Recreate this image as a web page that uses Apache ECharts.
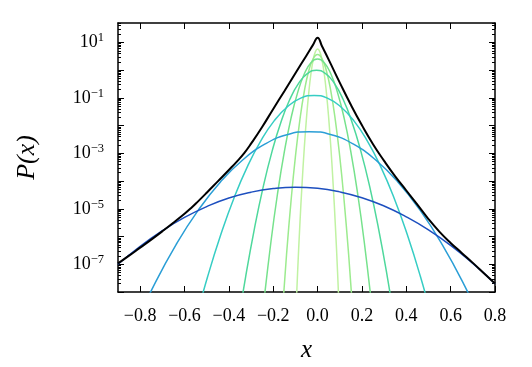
<!DOCTYPE html>
<html><head><meta charset="utf-8">
<script src="https://cdn.jsdelivr.net/npm/echarts@6/dist/echarts.min.js"></script>
<style>html,body{margin:0;padding:0;background:#fff;}#c{width:532px;height:367px;}</style>
</head><body><div id="c"></div><script>
// ---- data (y values are log10 P(x)) ----
const xTicks = [-0.8, -0.6, -0.4, -0.2, 0.0, 0.2, 0.4, 0.6, 0.8];
const yDecades = [-8, -7, -6, -5, -4, -3, -2, -1, 0, 1];
const yLabelExps = [1, -1, -3, -5, -7];

const c1X = [-0.10,-0.09,-0.08,-0.07,-0.06,-0.05,-0.04,-0.03,-0.02,-0.01,0,0.01,0.02,0.03,0.04,0.05,0.06,0.07,0.08,0.09,0.10];
const c1LogP = [-9.15,-7.27,-5.58,-4.10,-2.81,-1.72,-0.83,-0.13,0.36,0.66,0.76,0.66,0.36,-0.13,-0.83,-1.72,-2.81,-4.10,-5.58,-7.27,-9.15];

const c2X = [-0.16,-0.14,-0.12,-0.10,-0.08,-0.06,-0.04,-0.02,0,0.02,0.04,0.06,0.08,0.10,0.12,0.14,0.16];
const c2LogP = [-8.86,-6.65,-4.74,-3.12,-1.80,-0.77,-0.03,0.41,0.56,0.41,-0.03,-0.77,-1.80,-3.12,-4.74,-6.65,-8.86];

const c3X = [-0.25,-0.21,-0.18,-0.15,-0.12,-0.09,-0.06,-0.03,0,0.03,0.06,0.09,0.12,0.15,0.18,0.21,0.25];
const c3LogP = [-8.91,-6.17,-4.42,-2.95,-1.74,-0.81,-0.14,0.27,0.40,0.27,-0.14,-0.81,-1.74,-2.95,-4.42,-6.17,-8.91];

const c4X = [-0.365,-0.325,-0.285,-0.245,-0.205,-0.165,-0.125,-0.085,-0.045,-0.005,0.035,0.075,0.115,0.155,0.195,0.235,0.275,0.315,0.355];
const c4LogP = [-9.46,-7.48,-5.72,-4.20,-2.92,-1.87,-1.05,-0.47,-0.12,0.00,-0.12,-0.47,-1.05,-1.87,-2.92,-4.20,-5.72,-7.48,-9.46];

const c5X = [-0.556,-0.496,-0.436,-0.376,-0.316,-0.256,-0.196,-0.136,-0.076,-0.016,0.044,0.104,0.164,0.224,0.284,0.344,0.404,0.464,0.524];
const c5LogP = [-9.19,-7.45,-5.92,-4.59,-3.47,-2.55,-1.83,-1.32,-1.01,-0.91,-1.01,-1.32,-1.83,-2.55,-3.47,-4.59,-5.92,-7.45,-9.19];

const c6X = [-0.838,-0.738,-0.638,-0.538,-0.438,-0.338,-0.238,-0.138,-0.038,0.062,0.162,0.262,0.362,0.462,0.562,0.662,0.762];
const c6LogP = [-9.45,-7.76,-6.29,-5.05,-4.03,-3.24,-2.67,-2.33,-2.22,-2.33,-2.67,-3.24,-4.03,-5.05,-6.29,-7.76,-9.45];

const c7X = [-0.9,-0.8,-0.7,-0.6,-0.5,-0.4,-0.3,-0.2,-0.1,0,0.1,0.2,0.3,0.4,0.5,0.6,0.7,0.8];
const c7LogP = [-7.00,-6.35,-5.79,-5.31,-4.92,-4.61,-4.40,-4.27,-4.22,-4.26,-4.39,-4.60,-4.90,-5.29,-5.76,-6.32,-6.97,-7.70];

const blackX = [-0.9,-0.85,-0.8,-0.75,-0.7,-0.65,-0.6,-0.57,-0.54,-0.5,-0.45,-0.4,-0.36,-0.33,-0.3,-0.25,-0.2,-0.15,-0.1,-0.05,-0.02,0,0.02,0.05,0.1,0.15,0.2,0.25,0.3,0.35,0.4,0.45,0.5,0.55,0.6,0.65,0.7,0.75,0.8];
const blackLogP = [-6.97,-6.69,-6.40,-6.11,-5.81,-5.50,-5.18,-4.97,-4.74,-4.42,-4.01,-3.60,-3.26,-2.98,-2.65,-2.05,-1.40,-0.76,-0.11,0.53,0.92,1.17,0.86,0.38,-0.45,-1.25,-1.99,-2.67,-3.27,-3.83,-4.34,-4.85,-5.37,-5.83,-6.23,-6.59,-6.95,-7.32,-7.69];

const curveColors = ['#c0f2a2','#9ceb8e','#76e28c','#4ed89c','#36cdc4','#2a9ed6','#1d4fbf'];

// ---- chart ----
const FONT = '"Liberation Serif", "DejaVu Serif", serif';
const yMin = -8, yMax = 1.7;
const minorVals = [];
yDecades.forEach(k => { for (let m = 2; m <= 9; m++) { const v = k + Math.log10(m); if (v <= yMax) minorVals.push(v); } });
const fmtX = v => (v < 0 ? '\u2212' : '') + Math.abs(v).toFixed(1);
const fmtExp = e => (e < 0 ? '\u2212' : '') + Math.abs(e);

const lineStyleAxis = { show: true, onZero: false, lineStyle: { color: '#000', width: 1.5 } };
function xAx(pos, labels) {
  return {
    type: 'value', position: pos, min: -0.9, max: 0.8,
    axisLine: lineStyleAxis, splitLine: { show: false },
    axisTick: { show: true, inside: true, length: 6, customValues: xTicks, lineStyle: { color: '#000', width: 1 } },
    axisLabel: labels ? { show: true, customValues: xTicks, formatter: fmtX, margin: 15, color: '#000', fontSize: 18, fontFamily: FONT } : { show: false },
    name: labels ? 'x' : '', nameLocation: 'middle', nameGap: 46,
    nameTextStyle: { fontFamily: FONT, fontStyle: 'italic', fontSize: 25, color: '#000' }
  };
}
function yAx(pos, minor, labels) {
  return {
    type: 'value', position: pos, min: yMin, max: yMax,
    axisLine: minor ? { show: false, onZero: false } : lineStyleAxis, splitLine: { show: false },
    axisTick: { show: true, inside: true, length: minor ? 3 : 6, customValues: minor ? minorVals : yDecades, lineStyle: { color: '#000', width: 1 } },
    axisLabel: labels ? {
      show: true, customValues: yLabelExps, margin: 14,
      formatter: v => '{b|10}{s|' + fmtExp(Math.round(v)) + '}',
      rich: {
        b: { fontSize: 18, fontFamily: FONT, color: '#000', lineHeight: 22 },
        s: { fontSize: 12.5, fontFamily: FONT, color: '#000', lineHeight: 12, verticalAlign: 'top' }
      }
    } : { show: false },
    name: labels ? 'P(x)' : '', nameLocation: 'middle', nameGap: 78,
    nameTextStyle: { fontFamily: FONT, fontStyle: 'italic', fontSize: 26, color: '#000' }
  };
}

const curves = [[c1X,c1LogP],[c2X,c2LogP],[c3X,c3LogP],[c4X,c4LogP],[c5X,c5LogP],[c6X,c6LogP],[c7X,c7LogP]];
const series = curves.map((c, i) => ({
  type: 'line', xAxisIndex: 0, yAxisIndex: 0, smooth: true, showSymbol: false, clip: true,
  data: c[0].map((x, j) => [x, c[1][j]]),
  lineStyle: { color: curveColors[i], width: 1.5 }, emphasis: { disabled: true }
}));
series.push({
  type: 'line', xAxisIndex: 0, yAxisIndex: 0, smooth: 0.5, showSymbol: false, clip: true,
  data: blackX.map((x, j) => [x, blackLogP[j]]),
  lineStyle: { color: '#000', width: 2 }, emphasis: { disabled: true }
});

const chart = echarts.init(document.getElementById('c'), null, { renderer: 'canvas' });
chart.setOption({
  animation: false, backgroundColor: '#fff',
  grid: { left: 118, right: 37, top: 23, bottom: 75, containLabel: false, outerBoundsMode: 'none' },
  xAxis: [xAx('bottom', true), xAx('top', false)],
  yAxis: [yAx('left', false, true), yAx('left', true, false), yAx('right', false, false), yAx('right', true, false)],
  series: series
});
</script></body></html>
